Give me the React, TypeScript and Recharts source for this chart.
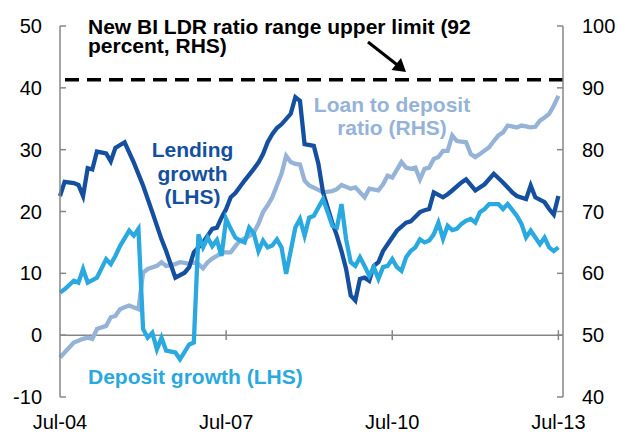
import { LineChart, Line, XAxis, YAxis, ReferenceLine } from 'recharts'

// x = months since Jul-04
const tickMonths = [0, 36, 72, 108]
const tickLabels = ['Jul-04', 'Jul-07', 'Jul-10', 'Jul-13']
const leftTicks = [-10, 0, 10, 20, 30, 40, 50]
const rightTicks = [40, 50, 60, 70, 80, 90, 100]
const ldrUpperLimit = 91.3

// [month, percent y/y] (LHS)
const lendingGrowth = [
  [0, 22.5], [1, 24.8], [3, 24.6], [4, 24.3], [5, 22.5], [6, 27.0], [7, 26.8], [8, 29.7],
  [10, 29.4], [11, 28.1], [12, 30.3], [14, 31.2], [16, 27.9], [18, 24.2], [20, 19.9],
  [22, 15.5], [23, 13.6], [25, 9.3], [27, 10.1], [28, 11.0], [29, 13.4], [31, 15.0],
  [32, 16.1], [33, 17.2], [34, 17.4], [35, 19.0], [36, 20.4], [37, 22.3], [38, 23.0],
  [40, 25.0], [42, 26.9], [43, 27.9], [44, 29.3], [45, 31.2], [46, 32.5], [47, 33.5],
  [48, 34.1], [50, 35.8], [51, 38.5], [52, 37.9], [53, 30.9], [55, 30.6], [56, 27.7],
  [57, 23.1], [59, 18.2], [60, 16.1], [61, 13.6], [62, 10.7], [63, 6.4], [64, 5.6],
  [65, 9.1], [66, 9.3], [67, 8.8], [68, 11.2], [69, 11.8], [70, 13.6], [71, 14.7],
  [72, 15.8], [73, 16.9], [75, 18.2], [76, 18.4], [78, 19.9], [79, 20.2], [80, 20.4],
  [81, 23.1], [83, 22.3], [84, 22.8], [85, 23.4], [87, 24.7], [88, 25.2], [90, 23.4],
  [92, 24.4], [94, 26.1], [96, 24.7], [98, 23.1], [99, 22.5], [101, 22.0], [102, 24.2],
  [103, 22.3], [105, 21.5], [106, 20.4], [107, 19.5], [108, 22.5],
]

// [month, percent y/y] (LHS)
const depositGrowth = [
  [0, 6.9], [1, 7.4], [3, 8.8], [4, 8.5], [5, 10.7], [6, 8.5], [8, 9.3], [10, 12.3],
  [11, 11.5], [12, 12.8], [13, 14.4], [15, 16.9], [16, 16.1], [17, 17.2], [18, 1.0],
  [19, -0.4], [20, 0.4], [21, -2.3], [22, -0.4], [23, -2.5], [25, -2.8], [26, -3.9],
  [28, -1.5], [29, -1.2], [30, 16.3], [31, 14.2], [32, 15.8], [33, 14.4], [34, 15.4],
  [35, 12.8], [36, 18.8], [37, 17.2], [38, 15.8], [39, 15.3], [40, 15.0], [41, 17.4],
  [42, 16.5], [43, 13.6], [44, 15.3], [45, 14.2], [46, 14.5], [47, 15.5], [48, 14.2],
  [49, 9.9], [51, 17.4], [52, 18.8], [53, 16.1], [54, 19.0], [55, 19.3], [57, 22.0],
  [58, 19.9], [59, 17.7], [60, 17.4], [61, 21.2], [62, 15.5], [63, 11.8], [64, 11.2],
  [65, 12.6], [66, 11.2], [67, 9.6], [68, 11.0], [69, 9.1], [70, 11.0], [71, 11.2],
  [72, 12.3], [73, 11.0], [74, 10.4], [75, 12.6], [76, 13.6], [77, 14.2], [78, 15.5],
  [79, 15.0], [80, 15.3], [81, 16.3], [82, 18.2], [83, 15.6], [84, 17.7], [85, 17.0],
  [86, 17.2], [87, 18.0], [88, 18.5], [89, 18.8], [90, 18.2], [91, 19.9], [92, 20.4],
  [93, 21.2], [95, 21.2], [96, 20.4], [97, 21.2], [99, 19.3], [100, 18.0], [101, 15.8],
  [102, 16.9], [104, 14.7], [105, 15.8], [106, 14.2], [107, 13.6], [108, 14.2],
]

// [month, percent] (RHS)
const loanToDeposit = [
  [0, 46.4], [2, 48.0], [3, 48.8], [5, 49.4], [6, 49.6], [7, 49.4], [8, 51.0], [10, 51.5],
  [11, 52.9], [12, 53.1], [13, 54.2], [14, 54.5], [15, 54.8], [17, 54.2], [18, 60.1],
  [19, 60.7], [21, 61.2], [22, 61.8], [23, 61.2], [25, 61.5], [26, 61.8], [27, 61.7],
  [28, 61.5], [29, 61.8], [30, 61.5], [31, 60.8], [32, 61.8], [33, 62.4], [34, 62.8],
  [35, 63.4], [37, 63.4], [38, 64.4], [39, 65.3], [41, 66.0], [42, 66.6], [43, 68.0],
  [44, 69.9], [45, 71.0], [46, 72.3], [47, 74.2], [48, 76.1], [49, 79.0], [50, 78.0],
  [51, 77.7], [52, 77.6], [53, 75.0], [54, 74.2], [56, 73.5], [57, 73.1], [59, 73.3],
  [60, 73.6], [61, 74.3], [63, 73.7], [64, 73.9], [65, 73.1], [66, 72.3], [67, 73.7],
  [69, 73.4], [70, 74.4], [71, 75.8], [72, 75.5], [74, 78.0], [75, 77.1], [76, 76.9],
  [77, 77.1], [78, 75.2], [79, 76.9], [80, 77.1], [81, 78.5], [82, 78.8], [83, 79.8],
  [84, 79.8], [85, 82.3], [86, 81.4], [88, 81.2], [89, 79.3], [90, 78.8], [91, 79.3],
  [93, 80.4], [94, 81.4], [95, 82.3], [96, 82.8], [97, 83.9], [99, 83.6], [100, 83.9],
  [102, 83.6], [103, 83.7], [104, 84.7], [105, 85.2], [106, 85.8], [107, 87.1], [108, 88.7],
]

const months = Array.from(
  new Set([...lendingGrowth, ...depositGrowth, ...loanToDeposit].map((p) => p[0]))
).sort((a, b) => a - b)

const valueAt = (series: number[][], m: number) => {
  const p = series.find((q) => q[0] === m)
  return p ? p[1] : null
}

const chartData = months.map((m) => ({
  m,
  lending: valueAt(lendingGrowth, m),
  deposit: valueAt(depositGrowth, m),
  ldr: valueAt(loanToDeposit, m),
}))

const FONT = '"Liberation Sans", Arial, sans-serif'
const AXIS = '#868686'
const colors = {
  lending: '#14509F',
  deposit: '#2AA8E0',
  ldr: '#95B3D7',
}

export default function App() {
  return (
    <div style={{ position: 'absolute', left: 0, top: 0, width: 618, height: 433, background: '#fff', fontFamily: FONT }}>
      <LineChart width={618} height={433} data={chartData} margin={{ top: 26, right: 0, bottom: 0, left: 0 }}>
        <XAxis
          dataKey="m"
          type="number"
          domain={[0, 109]}
          ticks={tickMonths}
          tickFormatter={(v: number) => tickLabels[tickMonths.indexOf(v)]}
          axisLine={false}
          tickLine={false}
          tickSize={0}
          tickMargin={18}
          height={36}
          tick={{ fill: '#000', fontSize: 20, fontFamily: FONT }}
        />
        <YAxis
          yAxisId="left"
          domain={[-10, 50]}
          ticks={leftTicks}
          interval={0}
          width={60}
          axisLine={{ stroke: AXIS, strokeWidth: 1.5 }}
          tickLine={{ stroke: AXIS, strokeWidth: 1.5 }}
          tickSize={-6}
          tickMargin={24}
          tick={{ fill: '#000', fontSize: 20, fontFamily: FONT }}
        />
        <YAxis
          yAxisId="right"
          orientation="right"
          domain={[40, 100]}
          ticks={rightTicks}
          interval={0}
          width={55}
          axisLine={{ stroke: AXIS, strokeWidth: 1.5 }}
          tickLine={{ stroke: AXIS, strokeWidth: 1.5 }}
          tickSize={-6}
          tickMargin={25}
          tick={{ fill: '#000', fontSize: 20, fontFamily: FONT }}
        />
        <ReferenceLine yAxisId="left" y={0} stroke={AXIS} strokeWidth={1.5} />
        {tickMonths.slice(1).map((m) => (
          <ReferenceLine
            key={m}
            yAxisId="left"
            segment={[{ x: m, y: -0.8 }, { x: m, y: 0.8 }]}
            stroke={AXIS}
            strokeWidth={1.5}
          />
        ))}
        <ReferenceLine yAxisId="right" y={ldrUpperLimit} stroke="#000" strokeWidth={3.5} strokeDasharray="14 8" />
        <Line yAxisId="right" dataKey="ldr" stroke={colors.ldr} strokeWidth={4.3} dot={false} connectNulls isAnimationActive={false} />
        <Line yAxisId="left" dataKey="lending" stroke={colors.lending} strokeWidth={4.3} dot={false} connectNulls isAnimationActive={false} />
        <Line yAxisId="left" dataKey="deposit" stroke={colors.deposit} strokeWidth={4.3} dot={false} connectNulls isAnimationActive={false} />
      </LineChart>
      <svg width={618} height={433} style={{ position: 'absolute', left: 0, top: 0, pointerEvents: 'none' }}>
        <g fontFamily={FONT} fontWeight="bold" fontSize={21}>
          <text x={88} y={34} fill="#000">New BI LDR ratio range upper limit (92</text>
          <text x={88} y={53} fill="#000">percent, RHS)</text>
          <text x={192.5} textAnchor="middle" fill={colors.lending}>
            <tspan x={192.5} y={157}>Lending</tspan>
            <tspan x={192.5} y={180.5}>growth</tspan>
            <tspan x={192.5} y={204}>(LHS)</tspan>
          </text>
          <text x={392} textAnchor="middle" fill={colors.ldr}>
            <tspan x={392} y={112}>Loan to deposit</tspan>
            <tspan x={392} y={135}>ratio (RHS)</tspan>
          </text>
          <text x={88} y={384} fill={colors.deposit}>Deposit growth (LHS)</text>
        </g>
        <line x1={368} y1={42} x2={398} y2={65.5} stroke="#000" strokeWidth={3} />
        <polygon points="406,72 391.5,70 401,58" fill="#000" />
      </svg>
    </div>
  )
}
